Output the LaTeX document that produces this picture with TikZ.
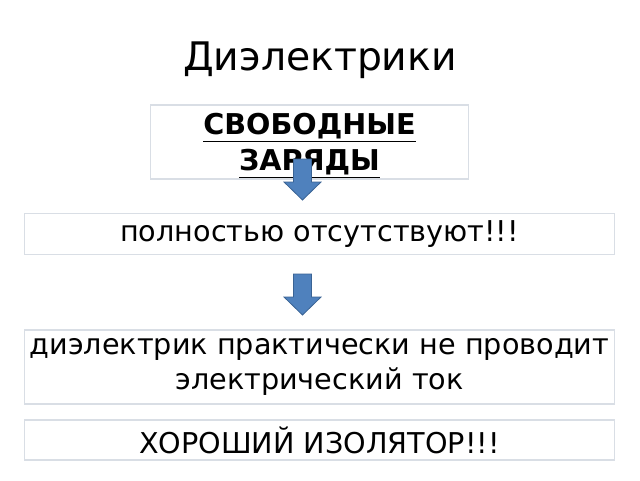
\documentclass[tikz,border=0pt]{standalone}
\usepackage{fontspec}
\setmainfont{DejaVu Sans}
\definecolor{boxline}{HTML}{D9DEE5}
\definecolor{arrowfill}{HTML}{4F81BD}
\definecolor{arrowline}{HTML}{3A6394}
\tikzset{
	textbox/.style={shape=rectangle, draw=boxline, line width=0.8pt, align=center, inner sep=0pt},
	bodytext/.style={font=\fontsize{21.5}{26}\selectfont},
	boldtext/.style={font=\fontsize{21.5}{27}\selectfont\bfseries},
	blockarrow/.style={fill=arrowfill, draw=arrowline, line width=0.6pt, line join=miter}
}
\begin{document}
\begin{tikzpicture}[x=0.75pt, y=-0.75pt]
	
	\useasboundingbox[fill=white] (0,0) rectangle (640,480);
	
	\node[font=\fontsize{29.5}{35}\selectfont] (title) at (320, 60) {Диэлектрики};
	
	\node[textbox, boldtext, minimum width=239pt, minimum height=55.5pt] (charges) at (309.5, 142)
		{\underline{СВОБОДНЫЕ}\\\raisebox{0pt}[\height][0pt]{\underline{ЗАРЯДЫ}}};
	\node[textbox, bodytext, minimum width=442pt, minimum height=31pt] (absent) at (319.5, 234)
		{полностью отсутствуют!!!};
	\node[textbox, bodytext, minimum width=442pt, minimum height=55.5pt] (current) at (319.5, 367)
		{диэлектрик практически не проводит\\электрический ток};
	\node[textbox, bodytext, minimum width=442pt, minimum height=30pt] (insulator) at (319.5, 440)
		{ХОРОШИЙ ИЗОЛЯТОР!!!};
	
	% block arrows between the boxes
	\draw[blockarrow] (293.5, 159) -- (311.5, 159) -- (311.5, 182) -- (321, 182) -- (302.5, 200)
		-- (284, 182) -- (293.5, 182) -- cycle;
	\draw[blockarrow] (293.5, 274) -- (311.5, 274) -- (311.5, 297) -- (321, 297) -- (302.5, 315)
		-- (284, 297) -- (293.5, 297) -- cycle;
	
\end{tikzpicture}
\end{document}
